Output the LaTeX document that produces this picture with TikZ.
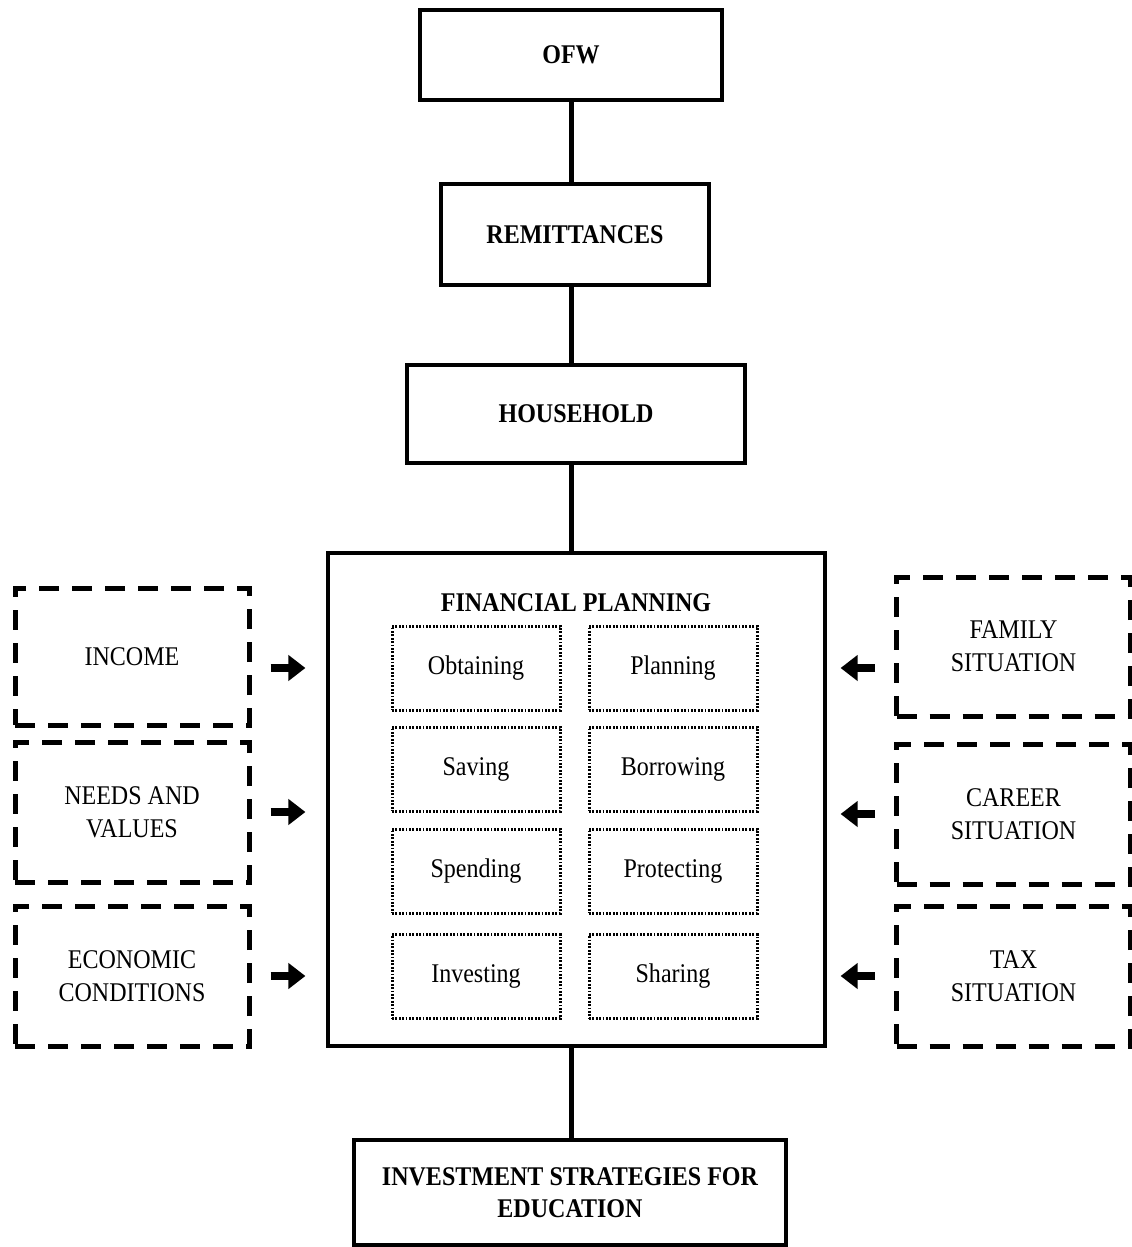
\documentclass[tikz,border=0pt]{standalone}
\usepackage{fontspec}
\setmainfont{Liberation Serif}[FakeStretch=0.89]
\usetikzlibrary{arrows.meta}
\tikzset{
    MainBox/.style={draw, line width=1.6pt, inner sep=0pt, align=center,
        font=\fontsize{13.5}{16}\selectfont\bfseries},
    FactorBox/.style={draw, line width=2.5pt, dash pattern=on 10pt off 6.5pt,
        minimum width=117pt, minimum height=70pt, inner sep=0pt, align=center,
        font=\fontsize{13.5}{16.5}\selectfont},
    TaskBox/.style={draw, line width=1.5pt, dash pattern=on 0.9pt off 0.8pt,
        minimum width=84pt, minimum height=42pt, inner sep=0pt,
        font=\fontsize{13.5}{15}\selectfont},
    Link/.style={line width=2.5pt},
    SideArrow/.style={line width=4pt, -{Triangle[length=8.5pt,width=12.5pt]},
        shorten <=9.5pt, shorten >=10.5pt},
}
\begin{document}
\begin{tikzpicture}[x=0.5pt,y=-0.5pt]
    \useasboundingbox (0,0) rectangle (1131,1247);
    % main chain
    \node[MainBox, minimum width=151pt, minimum height=45pt] (OFW) at (571,55) {OFW};
    \node[MainBox, minimum width=134pt, minimum height=50.5pt] (Remittances) at (575,234.5) {REMITTANCES};
    \node[MainBox, minimum width=169pt, minimum height=49pt] (Household) at (576,414) {HOUSEHOLD};
    \node[MainBox, minimum width=248.5pt, minimum height=246.5pt] (FP) at (576.5,799.5) {};
    \node[MainBox, minimum width=216pt, minimum height=52.5pt] (Invest) at (570,1192.5)
        {INVESTMENT STRATEGIES FOR\\EDUCATION};
    \draw[Link] (OFW.south) -- (OFW.south |- Remittances.north);
    \draw[Link] (Remittances.south -| OFW.south) -- (OFW.south |- Household.north);
    \draw[Link] (Household.south -| OFW.south) -- (OFW.south |- FP.north);
    \draw[Link] (FP.south -| OFW.south) -- (OFW.south |- Invest.north);
    % financial planning
    \node[font=\fontsize{13.5}{15}\selectfont\bfseries] (FPTitle) at (576,603) {FINANCIAL PLANNING};
    \node[TaskBox] (Obtaining) at (476,668) {Obtaining};
    \node[TaskBox] (Planning) at (673,668) {Planning};
    \node[TaskBox] (Saving) at (476,769) {Saving};
    \node[TaskBox] (Borrowing) at (673,769) {Borrowing};
    \node[TaskBox] (Spending) at (476,871) {Spending};
    \node[TaskBox] (Protecting) at (673,871) {Protecting};
    \node[TaskBox] (Investing) at (476,976.5) {Investing};
    \node[TaskBox] (Sharing) at (673,976.5) {Sharing};
    % factors, left
    \node[FactorBox, minimum height=68.5pt] (Income) at (132,656.5) {INCOME};
    \node[FactorBox] (Needs) at (132,812) {NEEDS AND\\VALUES};
    \node[FactorBox] (Economic) at (132,976) {ECONOMIC\\CONDITIONS};
    % factors, right
    \node[FactorBox, minimum height=69.5pt] (Family) at (1013.5,646.5) {FAMILY\\SITUATION};
    \node[FactorBox] (Career) at (1013.5,814) {CAREER\\SITUATION};
    \node[FactorBox] (Tax) at (1013.5,976) {TAX\\SITUATION};
    \draw[SideArrow] (Income.east |- Obtaining) -- (FP.west |- Obtaining);
    \draw[SideArrow] (Needs.east) -- (Needs.east -| FP.west);
    \draw[SideArrow] (Economic.east) -- (Economic.east -| FP.west);
    \draw[SideArrow, shorten >=7pt] (Family.west |- Planning) -- (FP.east |- Planning);
    \draw[SideArrow, shorten >=7pt] (Career.west) -- (Career.west -| FP.east);
    \draw[SideArrow, shorten >=7pt] (Tax.west) -- (Tax.west -| FP.east);
\end{tikzpicture}
\end{document}
